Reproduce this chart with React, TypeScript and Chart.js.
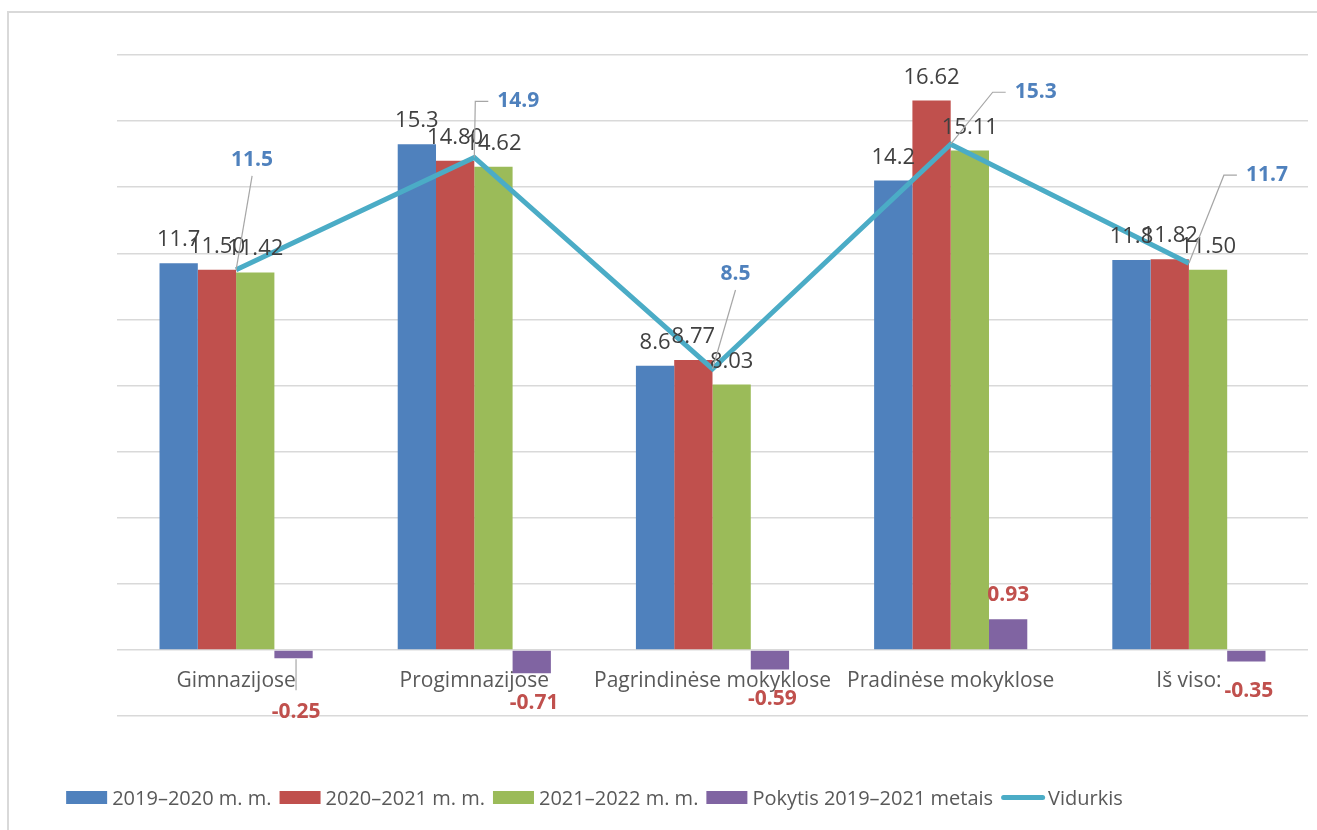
import React, { useEffect, useRef } from "react";
import { Chart, registerables } from "chart.js";

Chart.register(...registerables);

const categories = ["Gimnazijose", "Progimnazijose", "Pagrindinėse mokyklose", "Pradinėse mokyklose", "Iš viso:"];
const seriesNames = ["2019–2020 m. m.", "2020–2021 m. m.", "2021–2022 m. m.", "Pokytis 2019–2021 metais", "Vidurkis"];
const values2019 = [11.7, 15.3, 8.6, 14.2, 11.8];
const values2020 = [11.5, 14.8, 8.77, 16.62, 11.82];
const values2021 = [11.42, 14.62, 8.03, 15.11, 11.5];
const changeValues = [-0.25, -0.71, -0.59, 0.93, -0.35];
const averageValues = [11.5, 14.9, 8.5, 15.3, 11.7];
const decimals = [1, 2, 2, 2, 1];

// label placement (styling only)
const lineLabelOffsets = [
  [16, -110],
  [44, -56],
  [23, -95],
  [85, -52],
  [78, -88],
];
const changeLabelShift = [24, 0, 0, 0, 0];

const COLORS = ["#4F81BD", "#C0504D", "#9BBB59", "#8064A2", "#4BACC6"];
const FONT = "'Open Sans', 'DejaVu Sans', sans-serif";

const framePlugin = {
  id: "frame",
  beforeDraw(chart: any) {
    const ctx = chart.ctx;
    ctx.save();
    ctx.fillStyle = "#ffffff";
    ctx.fillRect(0, 0, chart.width, chart.height);
    ctx.strokeStyle = "#d9d9d9";
    ctx.lineWidth = 2;
    ctx.beginPath();
    ctx.moveTo(8, chart.height);
    ctx.lineTo(8, 12);
    ctx.lineTo(chart.width, 12);
    ctx.stroke();
    ctx.restore();
  },
};

const labelPlugin = {
  id: "valueLabels",
  afterDatasetsDraw(chart: any) {
    const ctx = chart.ctx;
    ctx.save();
    chart.data.datasets.forEach((ds: any, di: number) => {
      const meta = chart.getDatasetMeta(di);
      meta.data.forEach((el: any, i: number) => {
        const v = ds.data[i];
        const txt = v.toFixed(decimals[di]);
        if (di < 3) {
          ctx.font = `22px ${FONT}`;
          ctx.fillStyle = "#404040";
          ctx.textAlign = "center";
          ctx.textBaseline = "alphabetic";
          ctx.fillText(txt, el.x, el.y - 17);
        } else if (di === 3) {
          ctx.font = `bold 21px ${FONT}`;
          ctx.fillStyle = "#C0504D";
          ctx.textAlign = "center";
          ctx.textBaseline = "alphabetic";
          if (v >= 0) {
            ctx.fillText(txt, el.x, el.y - 18);
          } else {
            const shift = changeLabelShift[i];
            const base = el.y + 36 + shift;
            if (shift > 0) {
              ctx.strokeStyle = "#A6A6A6";
              ctx.lineWidth = 1.2;
              ctx.beginPath();
              ctx.moveTo(el.x + 2.5, el.y + 1);
              ctx.lineTo(el.x + 2.5, base - 28);
              ctx.stroke();
            }
            ctx.fillText(txt, el.x + 2.5, base);
          }
        } else {
          ctx.font = `bold 21px ${FONT}`;
          const w = ctx.measureText(txt).width;
          const [dx, dy] = lineLabelOffsets[i];
          const cx = el.x + dx;
          const cy = el.y + dy;
          const left = cx - w / 2;
          ctx.strokeStyle = "#A6A6A6";
          ctx.lineWidth = 1.2;
          ctx.beginPath();
          ctx.moveTo(el.x, el.y);
          if (left - el.x > 15) {
            ctx.lineTo(left - 22, cy);
            ctx.lineTo(left - 9, cy);
          } else {
            ctx.lineTo(cx, cy + 16);
          }
          ctx.stroke();
          ctx.fillStyle = "#4F81BD";
          ctx.textAlign = "center";
          ctx.textBaseline = "middle";
          ctx.fillText(txt, cx, cy);
        }
      });
    });
    ctx.restore();
  },
};

const legendPlugin = {
  id: "customLegend",
  afterDraw(chart: any) {
    const ctx = chart.ctx;
    ctx.save();
    ctx.font = `20px ${FONT}`;
    const boxW = 41;
    const lineW = 44;
    const items = chart.data.datasets.map((ds: any) => {
      const isLine = ds.type === "line";
      const tw = ctx.measureText(ds.label).width;
      const sym = isLine ? lineW : boxW;
      const gap = isLine ? 3 : 5;
      return { ds, isLine, tw, sym, gap, total: sym + gap + tw };
    });
    const spacing = 8;
    const totalW = items.reduce((s: number, it: any) => s + it.total, 0) + spacing * (items.length - 1);
    let x = 594.5 - totalW / 2;
    const boxTop = 791;
    const baseline = 805;
    items.forEach((it: any) => {
      if (it.isLine) {
        ctx.strokeStyle = it.ds.borderColor;
        ctx.lineWidth = 5;
        ctx.lineCap = "round";
        ctx.beginPath();
        ctx.moveTo(x + 2.5, 797.5);
        ctx.lineTo(x + it.sym - 2.5, 797.5);
        ctx.stroke();
      } else {
        ctx.fillStyle = it.ds.backgroundColor;
        ctx.fillRect(x, boxTop, it.sym, 13);
      }
      ctx.fillStyle = "#595959";
      ctx.textAlign = "left";
      ctx.textBaseline = "alphabetic";
      ctx.fillText(it.ds.label, x + it.sym + it.gap, baseline);
      x += it.total + spacing;
    });
    ctx.restore();
  },
};

export default function App() {
  const canvasRef = useRef<HTMLCanvasElement | null>(null);

  useEffect(() => {
    if (!canvasRef.current) return;
    const barCommon = { type: "bar" as const, order: 1, barPercentage: 1, categoryPercentage: 0.643, borderWidth: 0 };
    const chart = new Chart(canvasRef.current, {
      type: "bar",
      data: {
        labels: categories,
        datasets: [
          { ...barCommon, label: seriesNames[0], data: values2019, backgroundColor: COLORS[0] },
          { ...barCommon, label: seriesNames[1], data: values2020, backgroundColor: COLORS[1] },
          { ...barCommon, label: seriesNames[2], data: values2021, backgroundColor: COLORS[2] },
          { ...barCommon, label: seriesNames[3], data: changeValues, backgroundColor: COLORS[3] },
          {
            type: "line" as const,
            order: 0,
            label: seriesNames[4],
            data: averageValues,
            borderColor: COLORS[4],
            backgroundColor: COLORS[4],
            borderWidth: 5,
            pointRadius: 0,
            pointHoverRadius: 0,
            tension: 0,
            fill: false,
          } as any,
        ],
      },
      options: {
        responsive: false,
        devicePixelRatio: 1,
        animation: false,
        layout: { padding: { left: 117, right: 9, top: 55, bottom: 114 } },
        plugins: { legend: { display: false }, tooltip: { enabled: false } },
        scales: {
          x: {
            position: { y: 0 } as any,
            grid: { display: false, drawTicks: false },
            border: { display: false },
            ticks: {
              color: "#595959",
              font: { family: FONT, size: 21 },
              padding: 19,
              maxRotation: 0,
              autoSkip: false,
            },
          },
          y: {
            min: -2,
            max: 18,
            ticks: { stepSize: 2, display: false },
            grid: { color: "#d9d9d9", lineWidth: 1.5, drawTicks: false },
            border: { display: false },
          },
        },
      },
      plugins: [framePlugin, labelPlugin, legendPlugin],
    });
    return () => chart.destroy();
  }, []);

  return (
    <div style={{ position: "fixed", left: 0, top: 0, width: 1317, height: 830, background: "#fff" }}>
      <canvas ref={canvasRef} width={1317} height={830} style={{ display: "block", width: 1317, height: 830 }} />
    </div>
  );
}
